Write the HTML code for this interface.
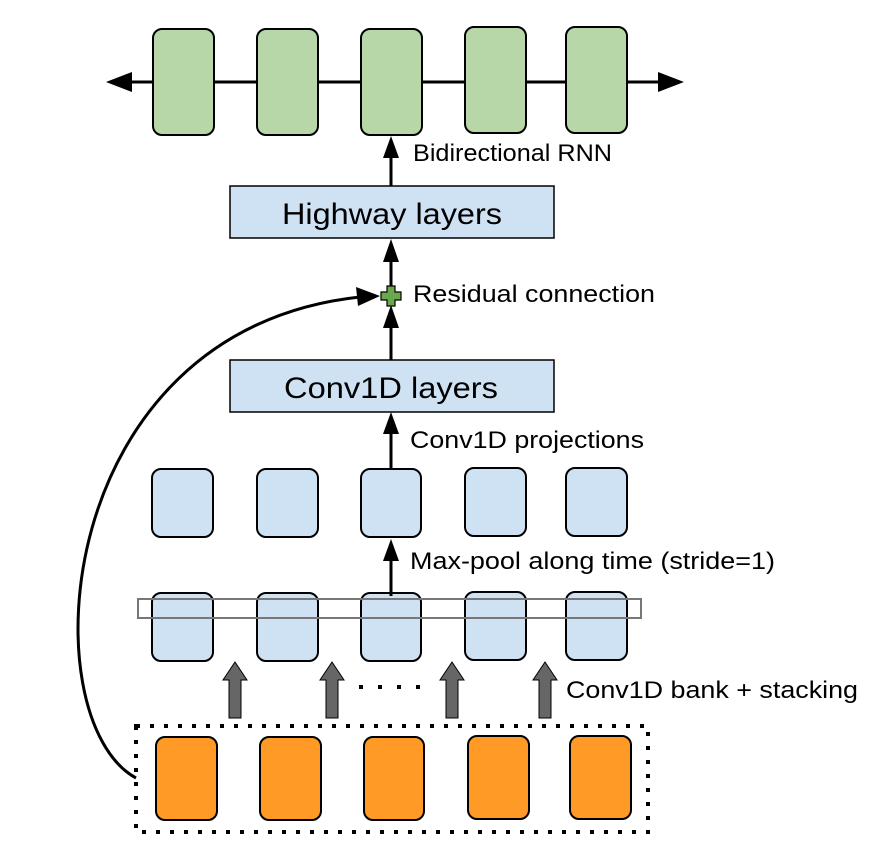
<!DOCTYPE html>
<html><head><meta charset="utf-8"><style>
html,body{margin:0;padding:0;background:#fff;}
svg{display:block;}
text{font-family:"Liberation Sans",Arial,sans-serif;fill:#000;}
</style></head><body>
<svg width="870" height="862" viewBox="0 0 870 862" xmlns="http://www.w3.org/2000/svg">
<line x1="128" y1="82" x2="662" y2="82" stroke="#000" stroke-width="3"/>
<polygon points="106,82 132,72 132,92" fill="#000"/>
<polygon points="684,82 658,72 658,92" fill="#000"/>
<g fill="#b7d7a8" stroke="#000" stroke-width="2">
<rect x="153" y="29" width="61" height="106" rx="9"/>
<rect x="257" y="29" width="61" height="106" rx="9"/>
<rect x="361" y="29" width="61" height="106" rx="9"/>
<rect x="465" y="27" width="61" height="106" rx="9"/>
<rect x="566" y="27" width="61" height="106" rx="9"/>
</g>
<line x1="391" y1="186" x2="391" y2="155" stroke="#000" stroke-width="3"/>
<polygon points="391,136 383,158 399,158" fill="#000"/>
<text x="413" y="161" font-size="24" textLength="199" lengthAdjust="spacingAndGlyphs">Bidirectional RNN</text>
<rect x="230" y="186" width="324" height="52" fill="#cfe2f3" stroke="#000" stroke-width="1.5"/>
<text x="282" y="224" font-size="30" textLength="220" lengthAdjust="spacingAndGlyphs">Highway layers</text>
<line x1="391" y1="290" x2="391" y2="258" stroke="#000" stroke-width="3"/>
<polygon points="391,239 383,262 399,262" fill="#000"/>
<line x1="391" y1="360" x2="391" y2="325" stroke="#000" stroke-width="3"/>
<polygon points="391,305 383,328 399,328" fill="#000"/>
<path d="M387,286 h8 v6 h6 v8 h-6 v6 h-8 v-6 h-6 v-8 h6 z" fill="#6aa84f" stroke="#000" stroke-width="1.2"/>
<text x="413" y="302" font-size="24" textLength="242" lengthAdjust="spacingAndGlyphs">Residual connection</text>
<path d="M136,778 C 30,720 50,330 360,297" fill="none" stroke="#000" stroke-width="3"/>
<polygon points="380,296 356,287 358,306" fill="#000"/>
<rect x="230" y="360" width="324" height="52" fill="#cfe2f3" stroke="#000" stroke-width="1.5"/>
<text x="284" y="398" font-size="30" textLength="214" lengthAdjust="spacingAndGlyphs">Conv1D layers</text>
<line x1="391" y1="470" x2="391" y2="430" stroke="#000" stroke-width="3"/>
<polygon points="391,412 383,434 399,434" fill="#000"/>
<text x="410" y="448" font-size="24" textLength="234" lengthAdjust="spacingAndGlyphs">Conv1D projections</text>
<g fill="#cfe2f3" stroke="#000" stroke-width="2">
<rect x="152" y="469" width="61" height="68" rx="9"/>
<rect x="257" y="469" width="61" height="68" rx="9"/>
<rect x="361" y="469" width="60" height="68" rx="9"/>
<rect x="465" y="468" width="61" height="68" rx="9"/>
<rect x="566" y="468" width="61" height="68" rx="9"/>
</g>
<line x1="391" y1="594" x2="391" y2="558" stroke="#000" stroke-width="3"/>
<polygon points="391,539 383,561 399,561" fill="#000"/>
<text x="410" y="569" font-size="24" textLength="365" lengthAdjust="spacingAndGlyphs">Max-pool along time (stride=1)</text>
<g fill="#cfe2f3" stroke="#000" stroke-width="2">
<rect x="152" y="593" width="61" height="68" rx="9"/>
<rect x="257" y="593" width="61" height="68" rx="9"/>
<rect x="361" y="593" width="60" height="68" rx="9"/>
<rect x="465" y="592" width="61" height="68" rx="9"/>
<rect x="566" y="592" width="61" height="68" rx="9"/>
</g>
<line x1="391" y1="583" x2="391" y2="596" stroke="#000" stroke-width="3"/>
<rect x="138" y="599" width="503" height="19" fill="none" stroke="#777" stroke-width="2"/>
<g fill="#666" stroke="#000" stroke-width="1">
<polygon points="229,718 229,680 223,680 235,662 247,680 241,680 241,718"/>
<polygon points="326,718 326,680 320,680 332,662 344,680 338,680 338,718"/>
<polygon points="446,718 446,680 440,680 452,662 464,680 458,680 458,718"/>
<polygon points="539,718 539,680 533,680 545,662 557,680 551,680 551,718"/>
</g>
<g fill="#000">
<rect x="359" y="685" width="4" height="4"/><rect x="378" y="685" width="4" height="4"/><rect x="397" y="685" width="4" height="4"/><rect x="416" y="685" width="4" height="4"/>
</g>
<text x="566" y="698" font-size="24" textLength="292" lengthAdjust="spacingAndGlyphs">Conv1D bank + stacking</text>
<rect x="136" y="726" width="512" height="106" fill="none" stroke="#000" stroke-width="4" stroke-dasharray="4,10"/>
<g fill="#ff9a26" stroke="#000" stroke-width="2">
<rect x="156" y="737" width="61" height="83" rx="9"/>
<rect x="260" y="737" width="61" height="83" rx="9"/>
<rect x="364" y="737" width="60" height="83" rx="9"/>
<rect x="468" y="736" width="61" height="83" rx="9"/>
<rect x="570" y="736" width="61" height="83" rx="9"/>
</g>
</svg>
</body></html>
